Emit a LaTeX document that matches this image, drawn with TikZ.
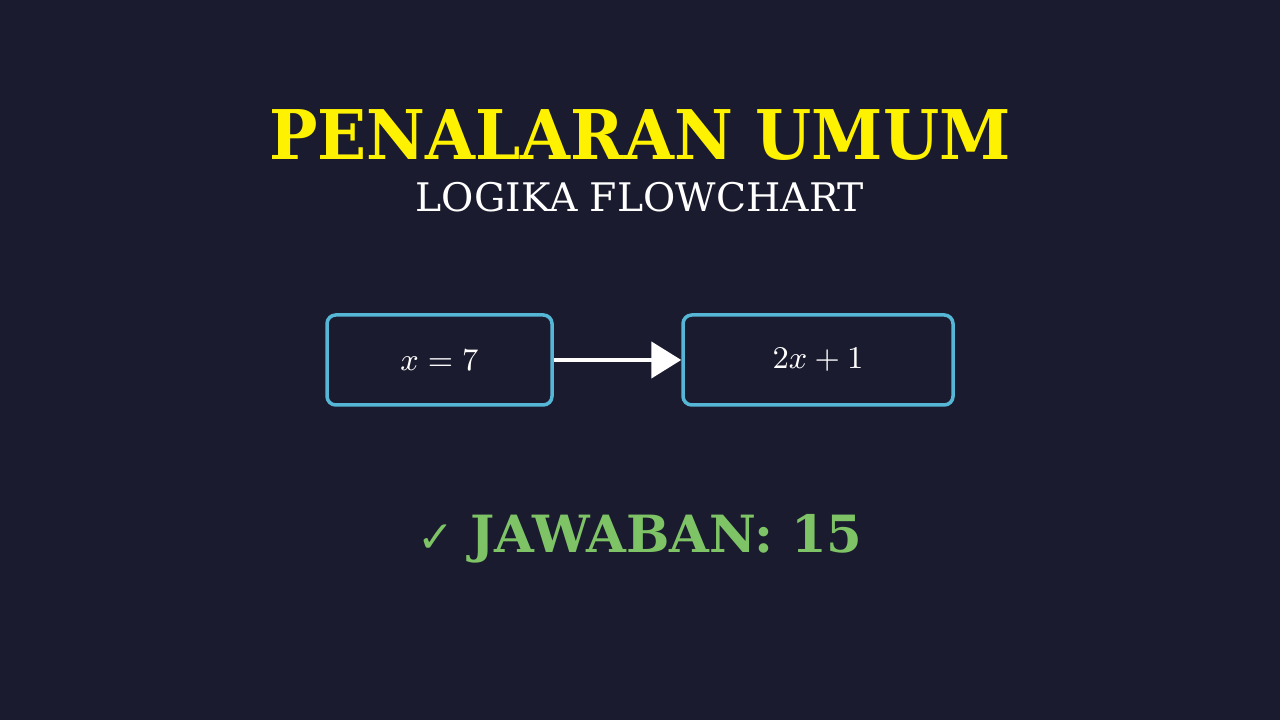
\documentclass[tikz,border=0pt]{standalone}
\usepackage{fontspec}
\setmainfont{DejaVu Serif}
\newfontfamily\titlefont[FakeStretch=0.94]{DejaVu Serif}
\newfontfamily\checkfont{DejaVu Sans}
\usetikzlibrary{arrows.meta}
\definecolor{bgdark}{RGB}{27,27,47}
\definecolor{boxcyan}{RGB}{86,182,214}
\definecolor{answergreen}{RGB}{126,196,102}
\begin{document}
\begin{tikzpicture}[box/.style={draw=boxcyan, line width=1pt, rounded corners=2.5pt, minimum height=0.9cm, text=white, font=\fontsize{9.5}{11}\selectfont}]
        \fill[bgdark] (0, 0) rectangle (12.8, 7.2);
        \useasboundingbox (0, 0) rectangle (12.8, 7.2);

        \node[anchor=base, text=yellow, font=\titlefont\fontsize{19.5}{22}\selectfont\bfseries] (title) at (6.4, 5.6) {PENALARAN UMUM};
        \node[anchor=base, text=white, font=\fontsize{11.2}{13}\selectfont] (subtitle) at (6.4, 5.08) {LOGIKA FLOWCHART};

        \node[box, minimum width=2.25cm] (input) at (4.395, 3.6) {$x = 7$};
        \node[box, minimum width=2.7cm] (rule) at (8.18, 3.6) {$2x + 1$};

        \draw[white, line width=1.3pt, -{Triangle[length=0.3cm, width=0.36cm]}] (input) -- (rule);

        \node[anchor=base, text=answergreen, font=\fontsize{14.6}{17}\selectfont] (answer) at (6.4, 1.67) {{\checkfont\fontsize{12.5}{14}\selectfont ✓} \textbf{JAWABAN: 15}};
    \end{tikzpicture}
\end{document}
